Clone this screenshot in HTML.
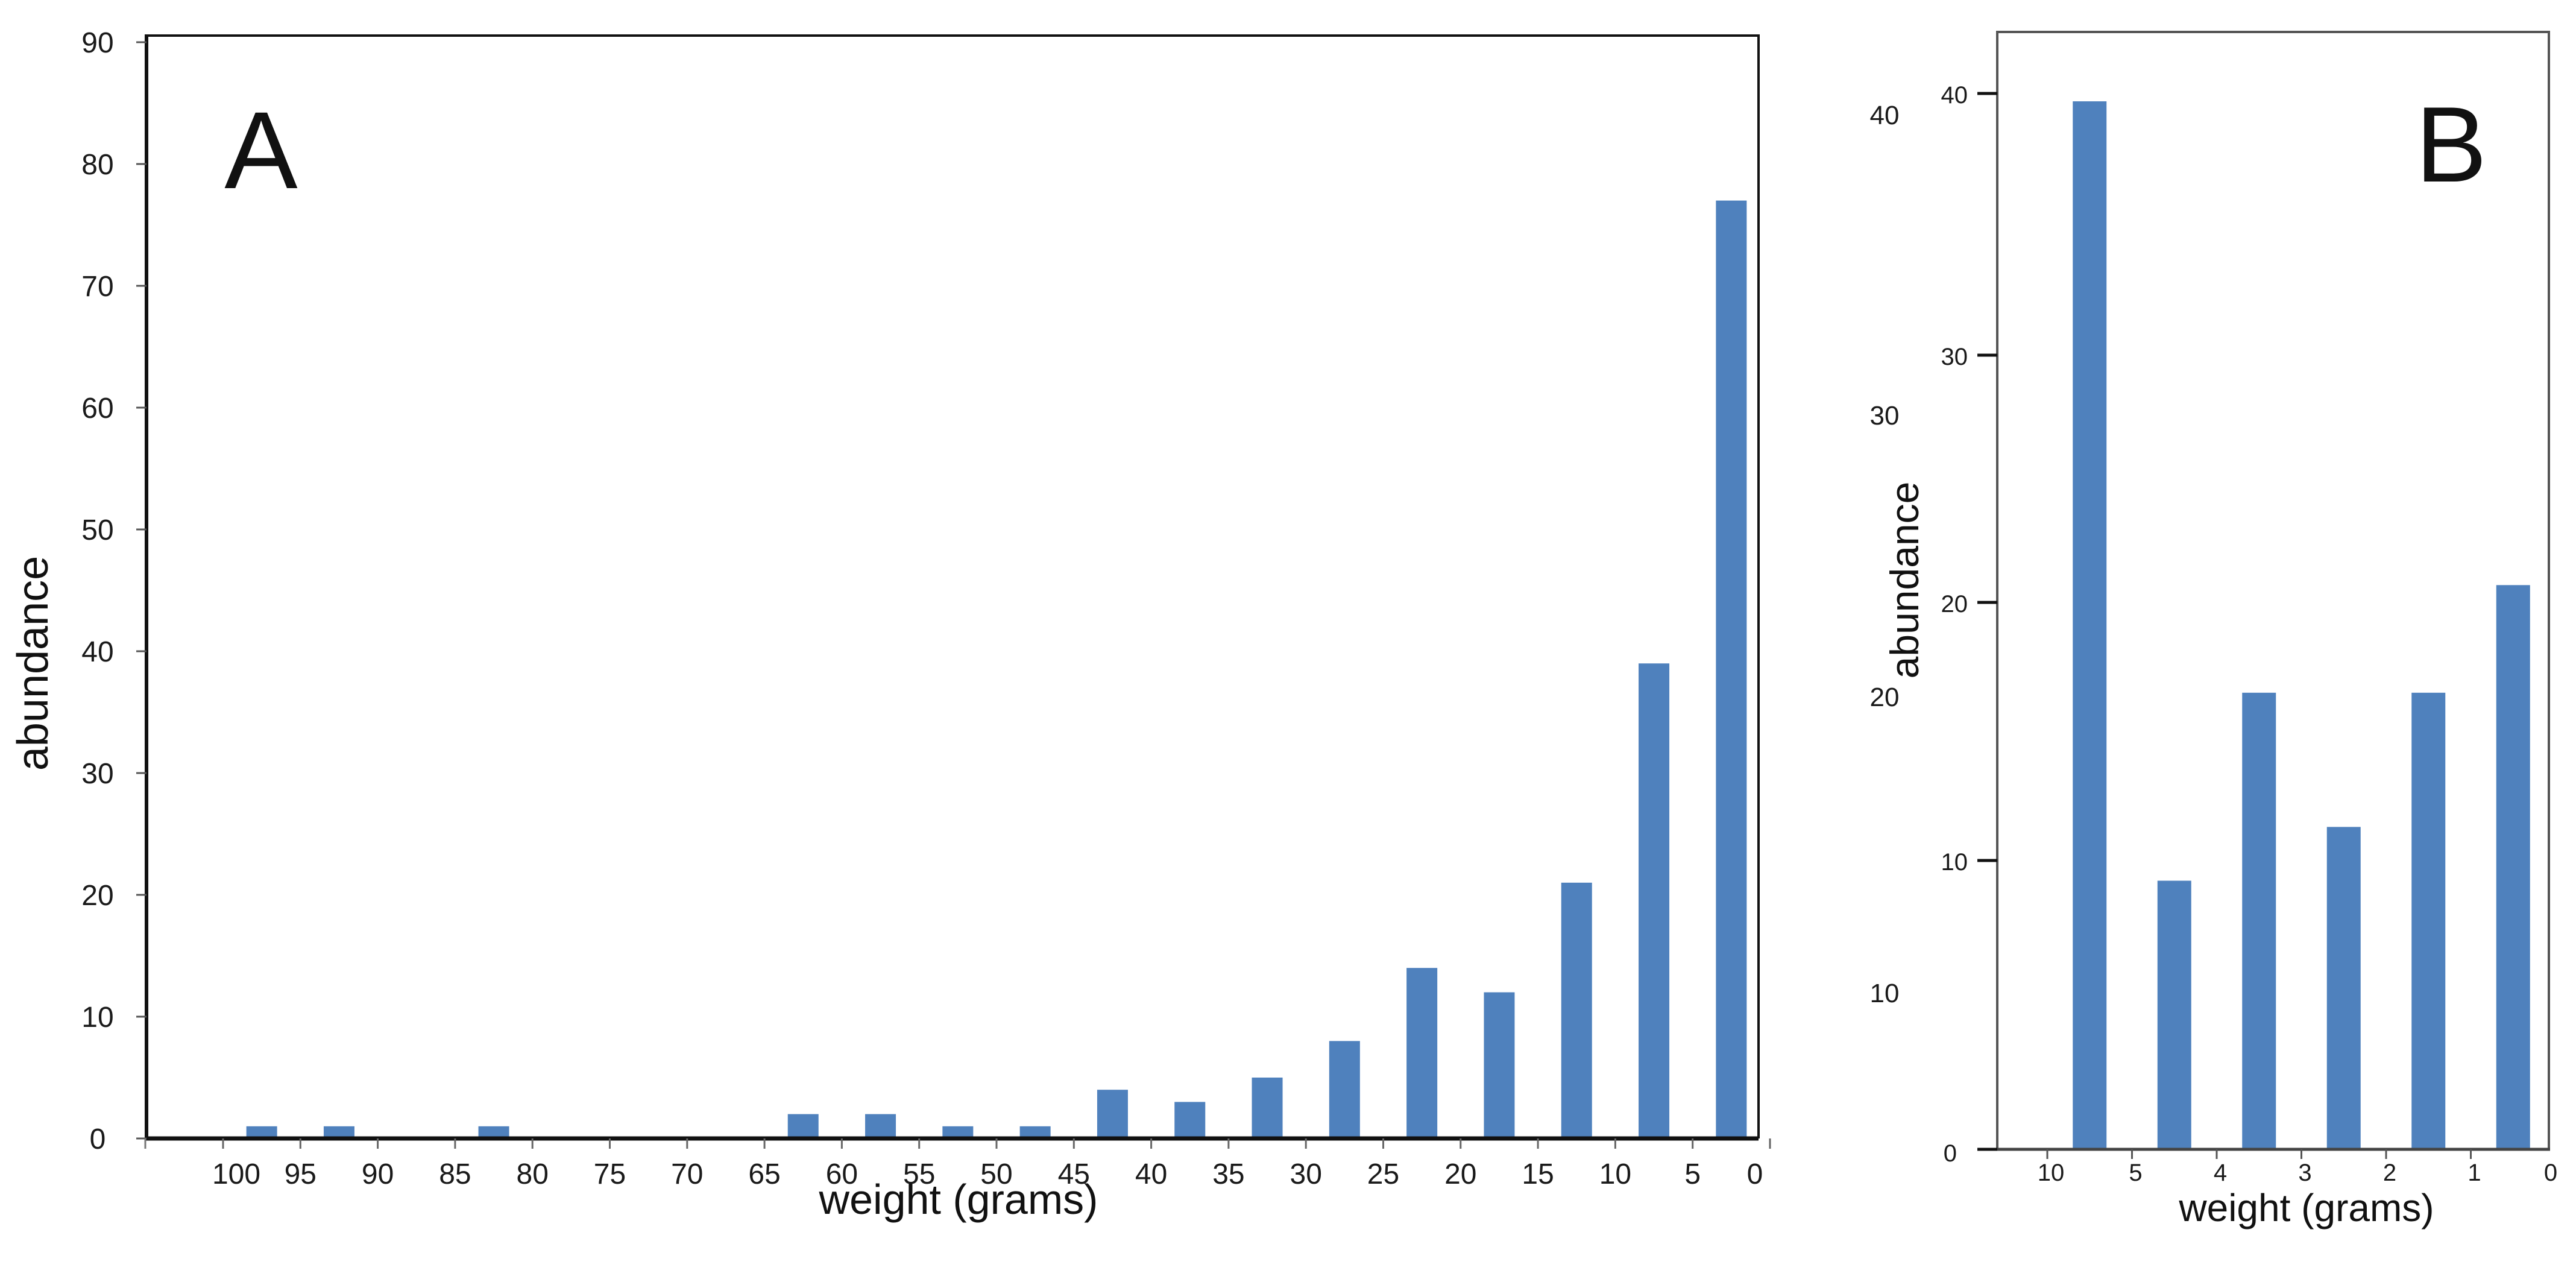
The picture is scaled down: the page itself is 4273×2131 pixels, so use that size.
<!DOCTYPE html>
<html><head><meta charset="utf-8"><style>
html,body{margin:0;padding:0;background:#fff;}
svg{display:block;}
.tk{font-family:"Liberation Sans Narrow","Liberation Sans",sans-serif;fill:#1a1a1a;}
.tt{font-family:"Liberation Sans",sans-serif;fill:#111;}
</style></head><body>
<svg id="chart" width="4273" height="2131" viewBox="0 0 4273 2131" xmlns="http://www.w3.org/2000/svg">
<g id="panelA"></g>
<g id="panelB"></g>
</svg>
<script>
// Panel A data
const catsA = ["100-95","95-90","90-85","85-80","80-75","75-70","70-65","65-60","60-55","55-50","50-45","45-40","40-35","35-30","30-25","25-20","20-15","15-10","10-5","5-0"];
const valsA = [1,1,0,1,0,0,0,2,2,1,1,4,3,5,8,14,12,21,39,77];
const xTicksA = ["100","95","90","85","80","75","70","65","60","55","50","45","40","35","30","25","20","15","10","5","0"];
const yTicksA = [0,10,20,30,40,50,60,70,80,90];
// Panel B data
const catsB = ["10-5","5-4","4-3","3-2","2-1","1-0"];
const valsB = [39.7,9.3,16.5,11.3,16.5,20.7];
const xTicksB = ["10","5","4","3","2","1","0"];
const yTicksB = [0,10,20,30,40];
const ghostTicksB = [40,30,20,10];

const NS="http://www.w3.org/2000/svg";
function mk(parent,tag,attrs,text){const e=document.createElementNS(NS,tag);for(const k in attrs)e.setAttribute(k,attrs[k]);if(text!==undefined)e.textContent=text;parent.appendChild(e);return e;}

// ---------- Panel A ----------
const A=document.getElementById('panelA');
const yA=v=>1888-v*20.2;
const xTickA=i=>370+i*128.3;
const xBarA=i=>xTickA(i+0.5);
// frame
let e;
e=mk(A,'line',{x1:243,y1:59,x2:2917,y2:59,stroke:'#111','stroke-width':4});

e=mk(A,'line',{x1:2917,y1:57,x2:2917,y2:1888,stroke:'#111','stroke-width':4});

// bars
valsA.forEach((v,i)=>{if(v<=0)return;const b=mk(A,'rect',{x:xBarA(i)-25.5,y:yA(v),width:51,height:1888-yA(v),fill:'#4f81bd'});

});
e=mk(A,'line',{x1:243,y1:57,x2:243,y2:1891,stroke:'#111','stroke-width':6});

e=mk(A,'line',{x1:240,y1:1888,x2:2917,y2:1888,stroke:'#111','stroke-width':7});

// y ticks
yTicksA.forEach(t=>{const y=yA(t);
const l=mk(A,'line',{x1:226,y1:y,x2:243,y2:y,stroke:'#555','stroke-width':3});


const tx=mk(A,'text',{x:162,y:y+17,'text-anchor':'middle','font-size':48,class:'tk'},String(t));

});
// x ticks
e=mk(A,'line',{x1:241,y1:1888,x2:241,y2:1905,stroke:'#777','stroke-width':3});

xTicksA.forEach((t,i)=>{const x=xTickA(i);
const l=mk(A,'line',{x1:x,y1:1888,x2:x,y2:1905,stroke:'#666','stroke-width':3});


let lx=x; if(i===0)lx=x+22; if(i===xTicksA.length-1)lx=x-25;
const tx=mk(A,'text',{x:lx,y:1963,'text-anchor':'middle','font-size':48,class:'tk'},t);

});
e=mk(A,'text',{x:433,y:312,'text-anchor':'middle','font-size':182,class:'tt',fill:'#000'},'A');

e=mk(A,'text',{x:1590,y:2013,'text-anchor':'middle','font-size':70,class:'tt'},'weight (grams)');

e=mk(A,'text',{x:0,y:0,'text-anchor':'middle','font-size':72,class:'tt',transform:'translate(79,1100) rotate(-90)'},'abundance');


// ---------- Panel B ----------
const B=document.getElementById('panelB');
const bTickVals=[0,10,20,30,40], bTickPix=[1906,1427,999,589,155];
function yB(v){for(let i=0;i<bTickVals.length-1;i++){if(v<=bTickVals[i+1]||i===bTickVals.length-2){const t=(v-bTickVals[i])/(bTickVals[i+1]-bTickVals[i]);return bTickPix[i]+t*(bTickPix[i+1]-bTickPix[i]);}}}
const xTickB=i=>3396+i*140.5;
const xBarB=i=>xTickB(i+0.5);
e=mk(B,'rect',{x:3313,y:53,width:915,height:1853,fill:'none',stroke:'#555','stroke-width':4});

valsB.forEach((v,i)=>{const b=mk(B,'rect',{x:xBarB(i)-28,y:yB(v),width:56,height:1906-yB(v),fill:'#4f81bd'});

});
e=mk(B,'line',{x1:3283,y1:1906,x2:4230,y2:1906,stroke:'#444','stroke-width':5});

yTicksB.forEach(t=>{const y=yB(t);
const l=mk(B,'line',{x1:3280,y1:y,x2:3313,y2:y,stroke:'#111','stroke-width':5});


const tx=mk(B,'text',{x:t===0?3246:3264,y:y+(t===0?20:16),'text-anchor':'end','font-size':40,class:'tk'},String(t));

});
const ghostY={40:190,30:688,20:1155,10:1646};
ghostTicksB.forEach(t=>{const tx=mk(B,'text',{x:3126,y:ghostY[t]+16,'text-anchor':'middle','font-size':44,class:'tk'},String(t));

});
xTicksB.forEach((t,i)=>{const x=xTickB(i);
if(i<xTicksB.length-1){const l=mk(B,'line',{x1:x,y1:1906,x2:x,y2:1922,stroke:'#555','stroke-width':3});

}
const lx=i===xTicksB.length-1?4231:x+6;
const tx=mk(B,'text',{x:lx,y:1958,'text-anchor':'middle','font-size':40,class:'tk'},t);

});
e=mk(B,'text',{x:4066,y:301,'text-anchor':'middle','font-size':178,class:'tt',fill:'#000'},'B');

e=mk(B,'text',{x:3826,y:2025,'text-anchor':'middle','font-size':64,class:'tt'},'weight (grams)');

e=mk(B,'text',{x:0,y:0,'text-anchor':'middle','font-size':66,class:'tt',transform:'translate(3182,962) rotate(-90)'},'abundance');

</script>
</body></html>
